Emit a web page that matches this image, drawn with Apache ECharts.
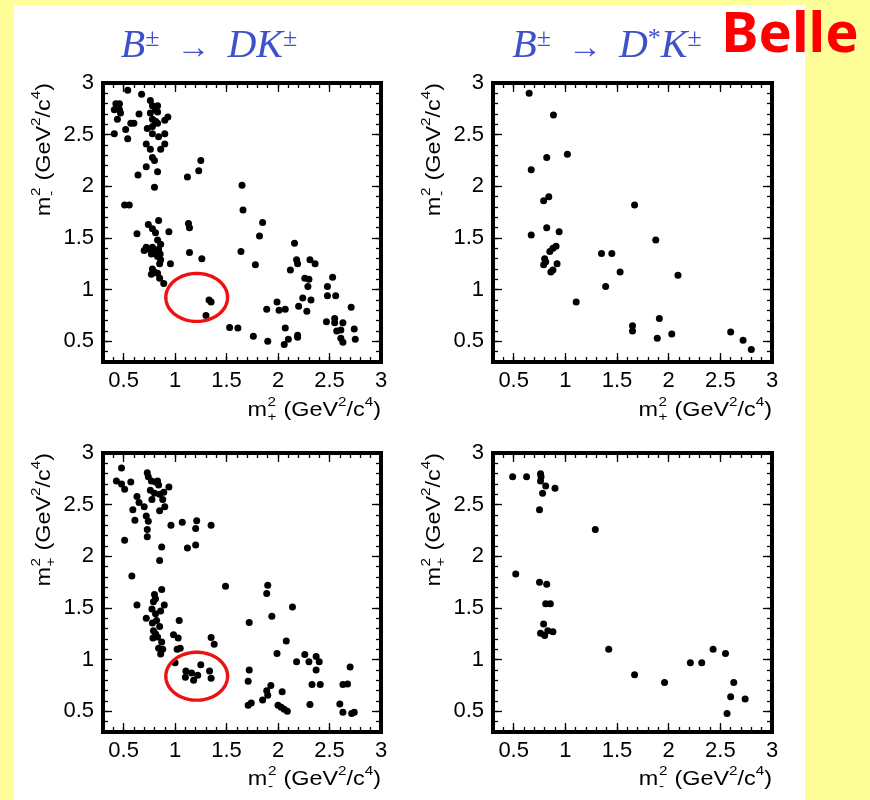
<!DOCTYPE html>
<html><head><meta charset="utf-8">
<script src="https://cdn.jsdelivr.net/npm/echarts@6/dist/echarts.min.js"></script>
<style>html,body{margin:0;padding:0;background:#FFFF99;} #c{width:870px;height:800px;}</style>
</head><body><div id="c"></div>
<script>
// ---- data (x, y) in GeV^2/c^4 ----
// top-left: B -> D K, x = m+^2, y = m-^2
const dkMinusVsPlus = [
 [0.54,2.93],[0.675,2.89],[0.425,2.80],[0.46,2.80],[0.41,2.74],[0.46,2.74],[0.47,2.71],[0.44,2.65],[0.41,2.51],[0.52,2.55],
 [0.54,2.46],[0.57,2.61],[0.60,2.61],[0.65,2.70],[0.76,2.83],[0.78,2.78],[0.83,2.78],[0.81,2.74],[0.76,2.71],[0.83,2.72],
 [0.93,2.67],[0.90,2.64],[0.78,2.65],[0.81,2.63],[0.83,2.61],[0.73,2.56],[0.78,2.58],[0.72,2.41],[0.76,2.36],[0.78,2.51],
 [0.84,2.48],[0.90,2.51],[0.90,2.41],[0.86,2.36],[0.78,2.28],[0.80,2.25],[0.72,2.19],[0.64,2.11],[0.83,2.14],[0.80,1.99],
 [1.25,2.25],[1.23,2.15],[1.12,2.09],[1.65,2.01],[1.66,1.77],[1.85,1.65],[1.82,1.52],[1.64,1.37],[1.78,1.24],
 [0.51,1.82],[0.555,1.82],[0.74,1.63],[0.78,1.59],[0.84,1.67],[0.63,1.54],[0.81,1.55],[0.83,1.48],[0.86,1.44],[0.94,1.56],
 [0.70,1.38],[0.72,1.41],[0.75,1.39],[0.78,1.41],[0.79,1.365],[0.815,1.35],[0.84,1.39],[0.855,1.345],[0.83,1.32],[0.77,1.345],
 [0.955,1.25],[0.86,1.29],[0.85,1.25],[0.78,1.20],[0.80,1.17],[0.77,1.15],[0.83,1.16],[0.85,1.11],[0.89,1.06],
 [1.13,1.64],[1.14,1.60],[1.14,1.36],[1.26,1.30],
 [1.33,0.90],[1.35,0.88],[1.30,0.75],
 [1.53,0.635],[1.61,0.63],[1.76,0.55],[1.90,0.50],[1.89,0.81],[1.99,0.88],[2.01,0.80],[2.07,0.81],[2.07,0.63],[2.06,0.47],
 [2.10,0.52],[2.19,0.56],[2.19,0.54],
 [2.16,1.45],[2.18,1.29],[2.19,1.25],[2.12,1.19],[2.26,1.11],[2.30,1.10],[2.29,1.03],[2.24,0.92],[2.20,0.84],[2.28,0.79],
 [2.32,0.90],[2.31,1.29],[2.36,1.25],
 [2.53,1.12],[2.48,1.03],[2.48,0.94],[2.56,0.94],[2.71,0.83],[2.47,0.69],[2.55,0.72],[2.55,0.68],[2.63,0.68],[2.57,0.60],
 [2.61,0.61],[2.61,0.53],[2.63,0.49],[2.74,0.62],[2.75,0.52]
];
// top-right: B -> D* K, x = m+^2, y = m-^2
const dstarkMinusVsPlus = [
 [0.65,2.90],[0.885,2.69],[0.82,2.28],[1.02,2.31],[0.67,2.16],[0.79,1.86],[0.84,1.90],[1.67,1.82],[0.82,1.60],[0.67,1.53],
 [0.94,1.56],[1.875,1.48],[0.91,1.42],[0.88,1.40],[0.85,1.37],[1.35,1.35],[1.45,1.35],[0.80,1.30],[0.81,1.27],[0.79,1.24],
 [0.92,1.25],[0.88,1.19],[0.86,1.17],[1.53,1.17],[2.09,1.14],[1.39,1.03],[1.105,0.88],[1.91,0.72],[1.65,0.65],[1.65,0.60],
 [1.89,0.53],[2.03,0.57],[2.60,0.59],[2.72,0.51],[2.80,0.42]
];
// bottom-left: B -> D K, x = m-^2, y = m+^2
const dkPlusVsMinus = [
 [0.48,2.855],[0.43,2.73],[0.48,2.70],[0.51,2.65],[0.57,2.72],[0.73,2.81],[0.74,2.77],[0.77,2.73],[0.81,2.72],[0.83,2.73],
 [0.84,2.69],[0.94,2.67],[0.89,2.62],[0.76,2.64],[0.80,2.61],[0.85,2.60],[0.775,2.55],[0.88,2.55],[0.63,2.58],[0.65,2.52],
 [0.70,2.48],[0.59,2.45],[0.90,2.48],[0.85,2.44],[0.72,2.39],[0.74,2.34],[0.61,2.35],[0.73,2.26],[0.73,2.19],[0.51,2.155],
 [0.96,2.30],[1.07,2.33],[1.21,2.345],[1.20,2.27],[1.35,2.30],[1.12,2.08],[1.20,2.11],[0.87,2.09],[0.85,1.96],[0.58,1.81],
 [1.49,1.71],[1.90,1.72],[1.89,1.64],[1.94,1.42],[2.14,1.51],[1.72,1.36],
 [0.80,1.63],[0.81,1.59],[0.79,1.56],[0.87,1.68],[0.895,1.53],[0.86,1.47],[0.775,1.49],[0.81,1.445],[0.72,1.40],[0.78,1.355],
 [0.82,1.38],[0.85,1.32],[0.79,1.28],[0.81,1.25],[0.785,1.21],[0.83,1.22],[0.87,1.17],[0.84,1.11],[0.88,1.10],[0.86,1.055],
 [0.63,1.53],[1.04,1.38],[0.985,1.24],[1.03,1.21],[1.02,1.10],[1.05,1.11],[1.0,0.97],[1.35,1.215],[1.38,1.15],
 [1.105,0.89],[1.10,0.83],[1.18,0.80],[1.22,0.85],[1.25,0.95],[1.335,0.89],[1.35,0.82],[1.16,0.87],
 [1.72,0.90],[1.71,0.79],[1.71,0.56],[1.74,0.58],[1.85,0.61],[1.89,0.70],[1.90,0.655],[1.93,0.75],[1.99,1.06],[2.08,1.18],
 [2.04,0.69],[2.00,0.56],[2.03,0.54],[2.06,0.52],[2.09,0.50],[2.18,0.98],[2.26,1.05],[2.30,0.98],[2.37,1.03],[2.40,0.98],
 [2.37,0.90],[2.33,0.76],[2.41,0.76],[2.31,0.565],[2.70,0.93],[2.63,0.76],[2.675,0.765],[2.60,0.57],[2.63,0.49],[2.715,0.48],
 [2.74,0.49]
];
// bottom-right: B -> D* K, x = m-^2, y = m+^2
const dstarkPlusVsMinus = [
 [0.49,2.77],[0.625,2.77],[0.76,2.80],[0.765,2.77],[0.76,2.73],[0.81,2.68],[0.90,2.66],[0.78,2.61],[0.75,2.45],[1.29,2.26],
 [0.52,1.83],[0.75,1.75],[0.82,1.73],[0.81,1.54],[0.855,1.54],[0.79,1.345],[0.76,1.255],[0.80,1.235],[0.83,1.28],[0.88,1.27],
 [1.42,1.10],[1.67,0.855],[1.96,0.78],[2.21,0.97],[2.32,0.97],[2.43,1.10],[2.55,1.06],[2.63,0.78],[2.60,0.64],[2.74,0.62],
 [2.565,0.48]
];
// highlighted regions: [centre x, centre y, half-width, half-height]
const ellipseTop = [[1.21, 0.925, 0.30, 0.232]];
const ellipseBottom = [[1.21, 0.84, 0.30, 0.232]];
// axis
const tickValues = [0.5, 1, 1.5, 2, 2.5, 3];
const tickLabels = ['0.5', '1', '1.5', '2', '2.5', '3'];
const panelTitles = ['B±→DK±', 'B±→D*K±'];

const chart = echarts.init(document.getElementById('c'), null, {renderer: 'canvas'});
const LF = '"Liberation Sans", Arial, Helvetica, sans-serif';
const grids = [
  {left: 103, top: 83, width: 278, height: 279},
  {left: 493, top: 83, width: 279, height: 279},
  {left: 103, top: 453, width: 278, height: 279},
  {left: 493, top: 453, width: 279, height: 279}
];
function fmt(v) {
  for (let i = 0; i < tickValues.length; i++) if (Math.abs(v - tickValues[i]) < 1e-6) return tickLabels[i];
  return '';
}
const xAxes = [], yAxes = [];
grids.forEach((g, gi) => {
  const mk = (dim, pos, major, labels) => {
    const a = {
      type: 'value', gridIndex: gi, position: pos, min: 0.3, max: 3, interval: 0.1,
      axisLine: {show: false, onZero: false},
      splitLine: {show: false},
      axisTick: {show: true, inside: true, length: major ? 9 : 5, lineStyle: {color: '#000', width: 1.3}},
      axisLabel: {show: labels, formatter: fmt, color: '#000', fontFamily: LF, fontSize: 22, margin: dim === 'x' ? 8 : 9,
                  showMinLabel: true, showMaxLabel: true, hideOverlap: false},
      z: 5
    };
    if (major) { a.axisTick.customValues = tickValues; a.axisLabel.customValues = tickValues; }
    return a;
  };
  xAxes.push(mk('x', 'bottom', true, true), mk('x', 'bottom', false, false), mk('x', 'top', true, false), mk('x', 'top', false, false));
  yAxes.push(mk('y', 'left', true, true), mk('y', 'left', false, false), mk('y', 'right', true, false), mk('y', 'right', false, false));
});
const datasets = [dkMinusVsPlus, dstarkMinusVsPlus, dkPlusVsMinus, dstarkPlusVsMinus];
const series = datasets.map((d, gi) => ({
  type: 'scatter', xAxisIndex: gi * 4, yAxisIndex: gi * 4, data: d,
  symbol: 'circle', symbolSize: 7, itemStyle: {color: '#000', opacity: 1}, silent: true, animation: false, z: 3
}));
function ellipseSeries(data, gi) {
  return {
    type: 'custom', xAxisIndex: gi * 4, yAxisIndex: gi * 4, data: data, clip: false, silent: true, animation: false, z: 4,
    renderItem: function (params, api) {
      const c = api.coord([api.value(0), api.value(1)]);
      const s = api.size([api.value(2), api.value(3)]);
      const pts = [];
      for (let k = 0; k < 96; k++) {
        const t = k / 96 * 2 * Math.PI;
        pts.push([c[0] + s[0] * Math.cos(t), c[1] + s[1] * Math.sin(t)]);
      }
      return {type: 'polygon', shape: {points: pts}, style: {fill: 'none', stroke: '#EE1111', lineWidth: 3.4}};
    }
  };
}
series.push(ellipseSeries(ellipseTop, 0), ellipseSeries(ellipseBottom, 2));

// ---- axis titles built from text pieces ----
const mctx = document.createElement('canvas').getContext('2d');
function tw(t, size) { mctx.font = size + 'px ' + LF; return mctx.measureText(t).width; }
function axisTitle(ax, ay, rot, sign) {
  const B = 20, S = 13;
  const parts = [];
  let x = 0;
  const add = (t, size, dy) => { parts.push({t, size, x, dy}); x += tw(t, size); };
  add('m', B, 0);
  const sx = x;
  parts.push({t: '2', size: S, x: sx + 0.5, dy: -8});
  parts.push({t: sign, size: S, x: sx + 0.5, dy: 7});
  x += Math.max(tw('2', S), tw(sign, S)) + 1;
  add(' (GeV', B, 0);
  add('2', S, -8);
  add('/c', B, 0);
  add('4', S, -8);
  add(')', B, 0);
  const total = x;
  return {
    type: 'group', x: ax, y: ay, rotation: rot, scaleX: 1.17, scaleY: 1, silent: true,
    children: parts.map(p => ({
      type: 'text', x: p.x - total, y: p.dy,
      style: {text: p.t, font: p.size + 'px ' + LF, fill: '#000', align: 'left', verticalAlign: 'middle',
              textAlign: 'left', textVerticalAlign: 'middle'}
    }))
  };
}
function panelTitle(cx, cy, t) {
  const blue = '#3F51C9';
  const serif = '"Liberation Serif", "DejaVu Serif", serif';
  const str = t.replace(/±/g, '{s|±}').replace('→', '{a|  →  }').replace(/^B/, '{i|B}').replace(/D(\*?)K/, '{i|D}$1{i|K}').replace('*', '{t|*}');
  return {
    type: 'text', x: cx, y: cy, silent: true,
    style: {
      text: str, align: 'center', verticalAlign: 'middle', textAlign: 'center', textVerticalAlign: 'middle', fill: blue,
      rich: {
        i: {fontFamily: serif, fontStyle: 'italic', fontSize: 40, fill: blue, color: blue, verticalAlign: 'bottom'},
        s: {fontFamily: serif, fontSize: 26, fill: blue, color: blue, verticalAlign: 'top'},
        t: {fontFamily: serif, fontSize: 26, fill: blue, color: blue, verticalAlign: 'top'},
        a: {fontFamily: serif, fontSize: 34, fill: blue, color: blue, verticalAlign: 'bottom'}
      }
    }
  };
}
const graphics = [
  {type: 'rect', shape: {x: 14, y: 5, width: 791, height: 800}, style: {fill: '#FFFFFF'}, z: -10, silent: true},
  panelTitle(209, 46, panelTitles[0]),
  panelTitle(607, 46, panelTitles[1]),
  {type: 'text', x: 790, y: 36, silent: true,
   style: {text: 'Belle', font: 'bold 56px "Noto Sans", sans-serif', fill: '#FF0000', align: 'center', verticalAlign: 'middle', textAlign: 'center', textVerticalAlign: 'middle'}},
  axisTitle(381, 410, 0, '+'),
  axisTitle(772, 410, 0, '+'),
  axisTitle(381, 779, 0, '-'),
  axisTitle(772, 779, 0, '-'),
  axisTitle(44, 83, Math.PI / 2, '-'),
  axisTitle(434, 83, Math.PI / 2, '-'),
  axisTitle(44, 453, Math.PI / 2, '+'),
  axisTitle(434, 453, Math.PI / 2, '+')
];
chart.setOption({
  animation: false,
  backgroundColor: '#FFFF99',
  grid: grids.map(g => Object.assign({show: true, borderColor: '#000', borderWidth: 4, backgroundColor: 'transparent', z: 6}, g)),
  xAxis: xAxes, yAxis: yAxes,
  series: series,
  graphic: graphics
});
</script></body></html>
